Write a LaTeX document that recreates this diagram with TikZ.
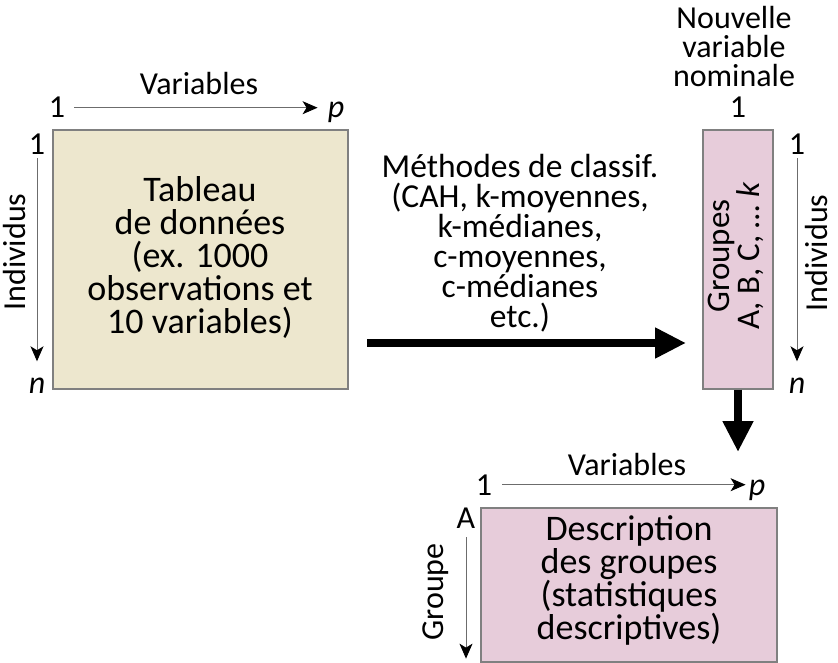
\documentclass[tikz,border=0pt]{standalone}
\usepackage{fontspec}
\setmainfont{Carlito}
\usetikzlibrary{arrows.meta}

\definecolor{tabbeige}{RGB}{237,231,206}
\definecolor{grppink}{RGB}{231,204,218}

\tikzset{
  box/.style={draw=gray, line width=1.3pt, inner sep=0pt},
  body/.style={font=\fontsize{36}{33}\selectfont, align=center, inner sep=0pt},
  lab/.style={font=\fontsize{32}{29}\selectfont, align=center, inner sep=0pt},
  axis/.style={draw=gray!85!black, line width=1pt, -{Stealth[black, length=15pt, width=13pt, inset=4pt]}},
  fat/.style={line width=8pt, -{Triangle[length=31pt, width=29pt]}},
}

\begin{document}
\begin{tikzpicture}[x=1pt, y=-1pt]
    \useasboundingbox (0,0) rectangle (838,663);

    % boxes
    \node[box, fill=tabbeige, minimum width=295pt, minimum height=259pt] (tab) at (200.5,259.5) {};
    \node[box, fill=grppink, minimum width=70pt, minimum height=259pt] (grp) at (738,259.5) {};
    \node[box, fill=grppink, minimum width=296pt, minimum height=154pt] (desc) at (629,585) {};

    \node[body] (tabtext) at (200,257) {Tableau\\de données\\(ex. 1000\\observations et\\10 variables)};
    \node[body] (desctext) at (629,580) {Description\\des groupes\\(statistiques\\descriptives)};
    \node[lab, rotate=90, font=\fontsize{33}{27}\selectfont] (grptext) at (736,256) {Groupes\\A, B, C, … \textit{k}};

    % table axes
    \node[lab, anchor=base] (tvar) at (199,95) {Variables};
    \node[lab, anchor=base] (tone) at (57,118) {1};
    \node[lab, anchor=base] (tp) at (336,118) {\itshape p};
    \node[lab, anchor=base] (lone) at (37,155) {1};
    \node[lab, anchor=base] (ln) at (37,393) {\itshape n};
    \node[lab, rotate=90, anchor=base] (lind) at (25,252) {Individus};
    \draw[axis, shorten <=9pt, shorten >=10pt] (tone.east) -- (tone.east -| tp.west);
    \draw[axis, shorten <=3pt, shorten >=16pt] (lone.south) -- (lone.south |- ln.north);

    % group axes
    \node[lab] (nvar) at (734,47) {Nouvelle\\variable\\nominale};
    \node[lab, anchor=base] (gone) at (738,118) {1};
    \node[lab, anchor=base] (rone) at (797,155) {1};
    \node[lab, anchor=base] (rn) at (797,393) {\itshape n};
    \node[lab, rotate=90, anchor=base] (rind) at (827,253) {Individus};
    \draw[axis, shorten <=3pt, shorten >=16pt] (rone.south) -- (rone.south |- rn.north);

    % description axes
    \node[lab, anchor=base] (dvar) at (627,475) {Variables};
    \node[lab, anchor=base] (done) at (484,495) {1};
    \node[lab, anchor=base] (dp) at (757,495) {\itshape p};
    \node[lab, anchor=base] (dA) at (466,528) {A};
    \node[lab, rotate=90, anchor=base] (dgrp) at (443,592) {Groupe};
    \draw[axis, shorten <=10pt, shorten >=3pt] (done.east) -- (done.east -| dp.west);
    \draw[axis, shorten <=9pt, shorten >=4pt] (dA.south) -- (dA.south |- desc.south);

    % methods
    \node[lab, font=\fontsize{33.5}{30}\selectfont] (meth) at (520,243.5) {Méthodes de classif.\\(CAH, k-moyennes,\\k-médianes,\\c-moyennes,\\c-médianes\\etc.)};
    \coordinate (ma) at (367,343);
    \coordinate (mb) at (686,343);
    \draw[fat] (ma) -- (mb);

    \coordinate (dtip) at (738,452);
    \draw[fat] (grp.south) -- (dtip);
\end{tikzpicture}
\end{document}
